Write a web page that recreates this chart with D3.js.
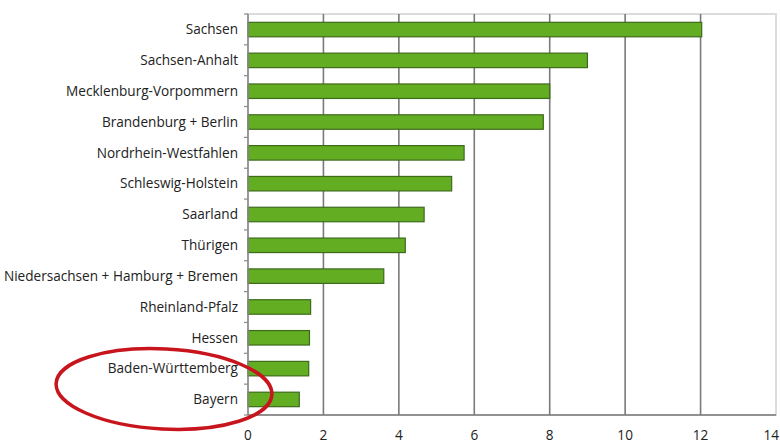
<!DOCTYPE html>
<html><head><meta charset="utf-8">
<script src="https://cdn.jsdelivr.net/npm/d3@7/dist/d3.min.js"></script>
<style>body{margin:0;background:#fff}svg{display:block}text{font-family:"Open Sans",sans-serif}</style>
</head><body>
<svg id="c" width="780" height="444"></svg>
<script>
const categories = ["Sachsen","Sachsen-Anhalt","Mecklenburg-Vorpommern","Brandenburg + Berlin","Nordrhein-Westfahlen","Schleswig-Holstein","Saarland","Thürigen","Niedersachsen + Hamburg + Bremen","Rheinland-Pfalz","Hessen","Baden-Württemberg","Bayern"];
const values = [12.03, 9.0, 8.0, 7.83, 5.73, 5.4, 4.67, 4.17, 3.6, 1.66, 1.63, 1.61, 1.36];
const xTicks = [0,2,4,6,8,10,12,14];

const svg = d3.select("#c");
const m = {left:248, right:776, top:14, bottom:415};
const x = d3.scaleLinear().domain([0,14]).range([m.left, m.right]);
const y = d3.scaleBand().domain(categories).range([m.top, m.bottom]).paddingInner(0.53).paddingOuter(0.27);

// plot frame (light)
svg.append("rect").attr("x", m.left).attr("y", m.top).attr("width", m.right-m.left).attr("height", m.bottom-m.top)
  .attr("fill","none").attr("stroke","#dcdcdc").attr("stroke-width",2);

// gridlines
svg.append("g").selectAll("line").data(xTicks.filter(d=>d>0 && d<14)).join("line")
  .attr("x1",d=>x(d)).attr("x2",d=>x(d)).attr("y1",m.top).attr("y2",m.bottom)
  .attr("stroke","#7a7a7a").attr("stroke-width",1.6);

// bars
svg.append("g").selectAll("rect").data(categories).join("rect")
  .attr("x", x(0)).attr("y", d=>y(d)).attr("height", y.bandwidth())
  .attr("width", (d,i)=>x(values[i])-x(0))
  .attr("fill","#62ad22").attr("stroke","#3e6a1c").attr("stroke-width",1.2);

// left axis line and ticks between categories
svg.append("line").attr("x1",m.left).attr("x2",m.left).attr("y1",m.top).attr("y2",m.bottom)
  .attr("stroke","#8a8a8a").attr("stroke-width",1.6);
svg.append("g").selectAll("line").data(d3.range(categories.length+1)).join("line")
  .attr("x1",m.left-4).attr("x2",m.left).attr("y1",i=>m.top+i*(m.bottom-m.top)/categories.length).attr("y2",i=>m.top+i*(m.bottom-m.top)/categories.length)
  .attr("stroke","#8a8a8a").attr("stroke-width",1.2);

// bottom axis
svg.append("line").attr("x1",m.left).attr("x2",m.right).attr("y1",m.bottom).attr("y2",m.bottom)
  .attr("stroke","#7a7a7a").attr("stroke-width",1.6);
svg.append("g").selectAll("text").data(xTicks).join("text")
  .attr("x",(d,i)=> i===xTicks.length-1 ? 779 : x(d)).attr("y",440)
  .attr("text-anchor",(d,i)=> i===xTicks.length-1 ? "end" : "middle")
  .attr("font-size",13.6).attr("fill","#222").text(d=>d);

// category labels
svg.append("g").selectAll("text").data(categories).join("text")
  .attr("x", m.left-10).attr("y", d=>y(d)+y.bandwidth()/2).attr("dy","0.35em")
  .attr("text-anchor","end").attr("font-size",13.6).attr("fill","#222").text(d=>d);

// red ellipse highlight
svg.append("ellipse").attr("cx",164).attr("cy",389).attr("rx",108).attr("ry",40)
  .attr("transform","rotate(3,164,389)")
  .attr("fill","none").attr("stroke","#c8141c").attr("stroke-width",3.5);
</script>
</body></html>
